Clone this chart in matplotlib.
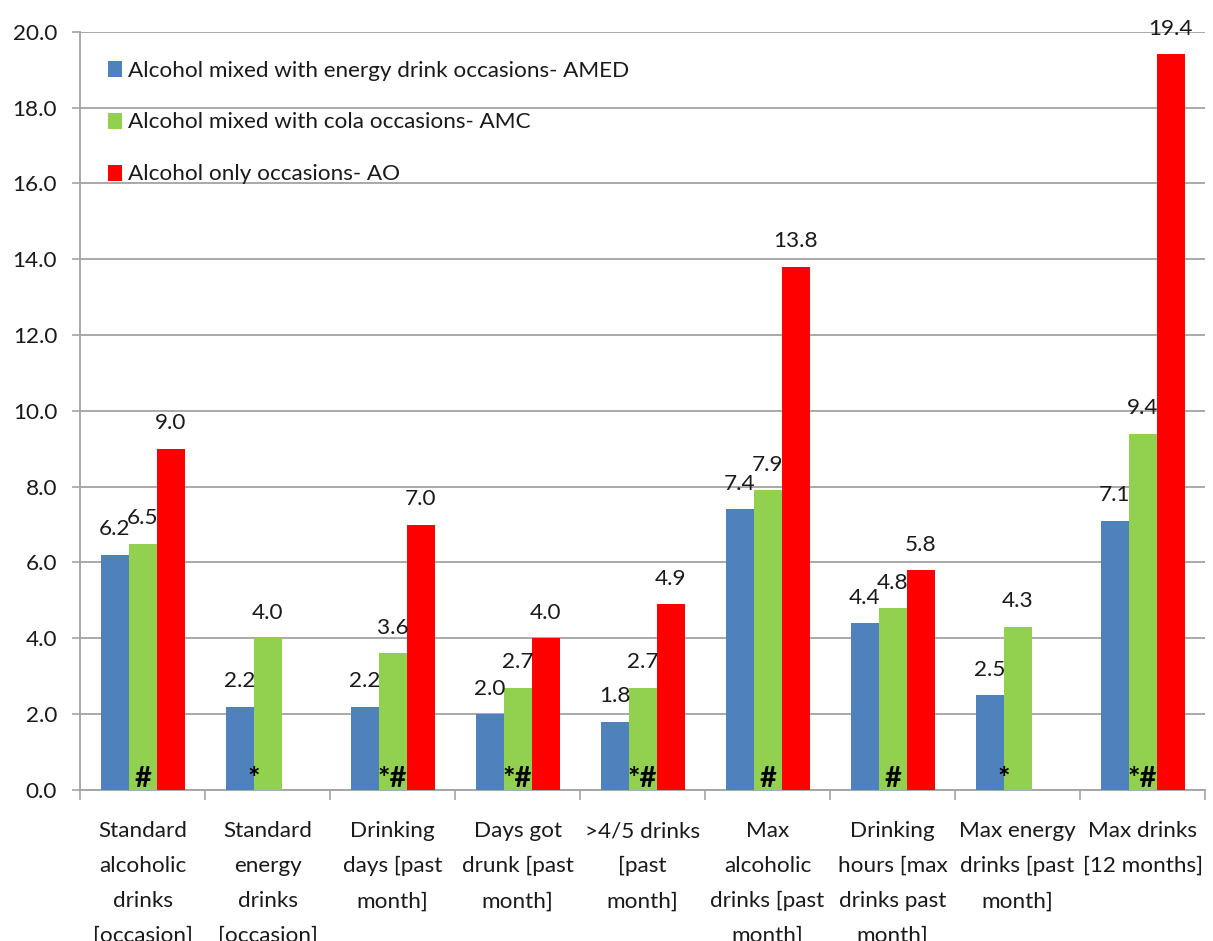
import numpy as np
import matplotlib
matplotlib.use('Agg')
import matplotlib.pyplot as plt
from matplotlib.ticker import FixedLocator, FormatStrFormatter

plt.rcParams['font.family'] = ['Lato', 'DejaVu Sans']

# Mean values per drinking occasion type
categories = [
    'Standard\nalcoholic\ndrinks\n[occasion]',
    'Standard\nenergy\ndrinks\n[occasion]',
    'Drinking\ndays [past\nmonth]',
    'Days got\ndrunk [past\nmonth]',
    '>4/5 drinks\n[past\nmonth]',
    'Max\nalcoholic\ndrinks [past\nmonth]',
    'Drinking\nhours [max\ndrinks past\nmonth]',
    'Max energy\ndrinks [past\nmonth]',
    'Max drinks\n[12 months]',
]
amed = [6.2, 2.2, 2.2, 2.0, 1.8, 7.4, 4.4, 2.5, 7.1]
amc = [6.5, 4.0, 3.6, 2.7, 2.7, 7.9, 4.8, 4.3, 9.4]
ao = [9.0, np.nan, 7.0, 4.0, 4.9, 13.8, 5.8, np.nan, 19.4]
sig_marks = ['#', '*', '*#', '*#', '*#', '#', '#', '*', '*#']

series = [
    ('Alcohol mixed with energy drink occasions- AMED', amed, '#4F81BD'),
    ('Alcohol mixed with cola occasions- AMC', amc, '#92D050'),
    ('Alcohol only occasions- AO', ao, '#FF0000'),
]

FS = 16.2
TEXT = '#1a1a1a'
GRID = '#a3a3a3'

fig = plt.figure(figsize=(12.13, 9.41), dpi=100)
ax = fig.add_axes([0.066, 0.1605, 0.9275, 0.8058])

x = np.arange(len(categories))
w = 0.224

for k, (name, vals, color) in enumerate(series):
    pos = x + (k - 1) * w
    vals = np.asarray(vals, dtype=float)
    ax.bar(pos, vals, width=w, color=color, label=name, zorder=3)
    for xp, v in zip(pos, vals):
        if np.isnan(v):
            continue
        ax.annotate(f'{v:.1f}', (xp, v), xytext=(0, 14), textcoords='offset points',
                    ha='center', va='baseline', fontsize=FS, color=TEXT, zorder=4)

# significance markers at the foot of the cola bars
for i, m in enumerate(sig_marks):
    xm = x[i] - w / 2 if m == '*' else x[i]
    ax.text(xm, 0.08, m, ha='center', va='baseline', fontsize=21,
            fontweight='bold', color='black', zorder=5)

ax.set_xlim(-0.5, len(categories) - 0.5)
ax.set_ylim(0, 20)
ax.yaxis.set_major_locator(FixedLocator(np.arange(0, 20.1, 2)))
ax.yaxis.set_major_formatter(FormatStrFormatter('%.1f'))
ax.grid(axis='y', color=GRID, linewidth=1.3, zorder=0)
ax.set_axisbelow(True)

ax.set_xticks(x)
ax.set_xticklabels(categories, fontsize=FS, color=TEXT, linespacing=1.93)
ax.xaxis.set_minor_locator(FixedLocator(np.arange(-0.5, len(categories), 1)))
ax.tick_params(axis='x', which='major', length=0, pad=22.5)
ax.tick_params(axis='x', which='minor', length=7, color=GRID, width=1.2)
ax.tick_params(axis='y', length=5.5, color=GRID, width=1.2, pad=11,
               labelsize=FS, labelcolor=TEXT)

for side in ('top', 'right'):
    ax.spines[side].set_visible(False)
for side in ('left', 'bottom'):
    ax.spines[side].set_color(GRID)
    ax.spines[side].set_linewidth(1.3)

ax.legend(loc='upper left', bbox_to_anchor=(0.025, 0.962), frameon=False,
          fontsize=FS, handlelength=0.62, handleheight=0.72, handletextpad=0.25,
          labelspacing=1.42, borderpad=0, borderaxespad=0, labelcolor=TEXT)

fig.savefig('out.png', dpi=100)
